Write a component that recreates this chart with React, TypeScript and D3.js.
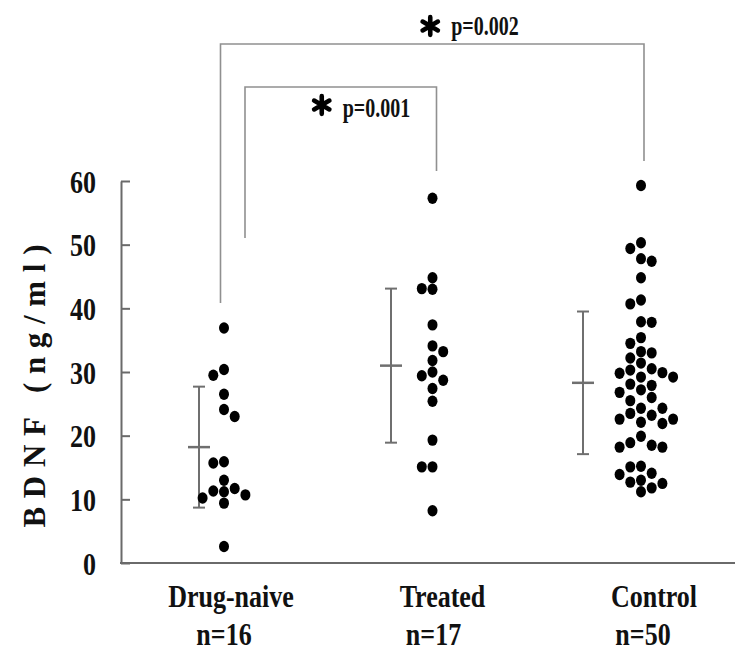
import React, { useEffect, useRef } from "react";
import * as d3 from "d3";

const groups = ["Drug-naive", "Treated", "Control"];
const groupSizes = ["n=16", "n=17", "n=50"];

const drugNaive = [36.9, 30.4, 29.5, 26.5, 24.1, 23.0, 15.9, 15.7, 13.0, 11.7, 11.3, 11.2, 10.7, 10.2, 9.4, 2.6];
const treated = [57.3, 44.8, 43.1, 43.0, 37.4, 34.1, 33.2, 31.8, 30.0, 29.4, 28.7, 27.4, 25.4, 19.3, 15.1, 15.1, 8.2];
const control = [
  59.3, 50.3, 49.4, 47.8, 47.4, 44.8, 41.3, 40.7, 37.9, 37.8,
  35.4, 34.5, 33.2, 33.0, 32.2, 31.4, 30.5, 30.3, 29.9, 29.8,
  29.2, 29.2, 28.1, 27.9, 27.2, 26.8, 26.0, 25.5, 24.3, 24.3,
  23.5, 23.2, 22.6, 22.6, 22.1, 21.9, 19.9, 18.9, 18.5, 18.2,
  18.2, 15.2, 15.1, 14.1, 13.9, 13.0, 12.7, 12.5, 11.8, 11.2,
];

const means = [18.2, 31.0, 28.3];
const sds = [9.5, 12.1, 11.2];

const yTicks = [0, 10, 20, 30, 40, 50, 60];

// significance brackets: [from group, to group]
const pairs = [
  [0, 1],
  [0, 2],
];
const pValues = ["p=0.001", "p=0.002"];

const FONT = "'Liberation Serif', 'Times New Roman', serif";

const App = () => {
  const svgRef = useRef(null);

  useEffect(() => {
    const svg = d3.select(svgRef.current);
    svg.selectAll("*").remove();

    const y = d3.scaleLinear().domain([0, 60]).range([563, 181]);
    const xDots = d3.scalePoint().domain(groups).range([224, 641]);
    const xBars = d3.scalePoint().domain(groups).range([199, 583]);
    const xName = d3.scalePoint().domain(groups).range([231, 654]);
    const xN = d3.scalePoint().domain(groups).range([224, 643]);

    const axisColor = "#6a6a6a";

    // y axis
    const yAxis = d3.axisLeft(y).tickValues(yTicks).tickSize(-9).tickSizeOuter(0).tickPadding(25);
    const ga = svg.append("g").attr("transform", "translate(121,0)").call(yAxis);
    ga.select(".domain").attr("stroke", axisColor).attr("stroke-width", 2);
    ga.selectAll(".tick line").attr("stroke", axisColor).attr("stroke-width", 2);
    ga.selectAll(".tick text")
      .attr("fill", "#111")
      .attr("font-family", FONT)
      .attr("font-weight", "bold")
      .attr("font-size", 26)
      .attr("dy", "0.36em")
      .attr("transform", "scale(1,1.2)");

    // x axis line
    svg.append("line")
      .attr("x1", 120).attr("x2", 735)
      .attr("y1", y(0)).attr("y2", y(0))
      .attr("stroke", axisColor).attr("stroke-width", 2);

    // y title
    svg.append("text")
      .attr("transform", `translate(45,${(y(0) + y(60)) / 2 + 14}) rotate(-90)`)
      .attr("text-anchor", "middle")
      .attr("font-family", FONT)
      .attr("font-weight", "bold")
      .attr("font-size", 31)
      .attr("textLength", 283)
      .attr("lengthAdjust", "spacing")
      .attr("fill", "#111")
      .text("BDNF (ng/ml)");

    const stretchText = (x, yy, str, size, sy, anchor = "middle") =>
      svg.append("text")
        .attr("transform", `translate(${x},${yy}) scale(1,${sy})`)
        .attr("text-anchor", anchor)
        .attr("font-family", FONT)
        .attr("font-weight", "bold")
        .attr("font-size", size)
        .attr("fill", "#111")
        .text(str);

    groups.forEach((g, i) => {
      stretchText(xName(g), 607, g, 26, 1.25);
      stretchText(xN(g), 645, groupSizes[i], 26, 1.2);
    });

    // error bars (mean +/- SD)
    groups.forEach((g, i) => {
      const bx = xBars(g);
      const bar = svg.append("g").attr("stroke", "#6f6f6f").attr("stroke-width", 2);
      bar.append("line").attr("x1", bx).attr("x2", bx)
        .attr("y1", y(means[i] + sds[i])).attr("y2", y(means[i] - sds[i]));
      [means[i] + sds[i], means[i] - sds[i]].forEach((v) => {
        bar.append("line").attr("x1", bx - 6).attr("x2", bx + 6).attr("y1", y(v)).attr("y2", y(v));
      });
      bar.append("line").attr("x1", bx - 11).attr("x2", bx + 11)
        .attr("y1", y(means[i])).attr("y2", y(means[i])).attr("stroke-width", 2.5);
    });

    // beeswarm dots
    const colW = 10.7;
    const minGap = 11;
    const swarm = (values, cx) => {
      const placed = [];
      return values.map((v) => {
        const py = y(v);
        const free = (s) => !placed.some((p) => p.slot === s && Math.abs(p.py - py) < minGap);
        let slot = 0;
        if (!free(0)) {
          for (let k = 1; k < 10; k++) {
            const l = free(-k), r = free(k);
            if (l && r) {
              const nl = placed.filter((p) => p.slot < 0).length;
              const nr = placed.filter((p) => p.slot > 0).length;
              slot = nl <= nr ? -k : k;
              break;
            }
            if (l) { slot = -k; break; }
            if (r) { slot = k; break; }
          }
        }
        placed.push({ slot, py });
        return { x: cx + slot * colW, y: py };
      });
    };

    [drugNaive, treated, control].forEach((vals, i) => {
      svg.append("g")
        .selectAll("ellipse")
        .data(swarm(vals, xDots(groups[i])))
        .enter()
        .append("ellipse")
        .attr("cx", (d) => d.x)
        .attr("cy", (d) => d.y)
        .attr("rx", 5)
        .attr("ry", 5.7)
        .attr("fill", "#000");
    });

    // significance brackets
    const bracketTop = [87, 44];
    const legLeftEnd = [238, 303];
    const legRightEnd = [171, 161];
    const leftShift = [21, -3.5];
    const rightShift = [4, 3];
    const starX = [-19, -2];
    const starY = [105, 26];
    const textY = [117, 35];
    pairs.forEach(([a, b], i) => {
      const x1 = xDots(groups[a]) + leftShift[i];
      const x2 = xDots(groups[b]) + rightShift[i];
      svg.append("path")
        .attr("d", `M${x1},${legLeftEnd[i]}V${bracketTop[i]}H${x2}V${legRightEnd[i]}`)
        .attr("fill", "none")
        .attr("stroke", "#909090")
        .attr("stroke-width", 1.6);
      const mid = (x1 + x2) / 2 + starX[i];
      svg.append("path")
        .attr("transform", `translate(${mid},${starY[i]})`)
        .attr("d", d3.symbol(d3.symbolAsterisk, 220)())
        .attr("stroke", "#000")
        .attr("stroke-width", 4.6)
        .attr("stroke-linecap", "round")
        .attr("fill", "none");
      stretchText(mid + 21, textY[i], pValues[i], 20, 1.35, "start");
    });
  }, []);

  return (
    <svg
      ref={svgRef}
      width={735}
      height={653}
      style={{ position: "absolute", left: 0, top: 0, background: "#fff" }}
    />
  );
};

export default App;
